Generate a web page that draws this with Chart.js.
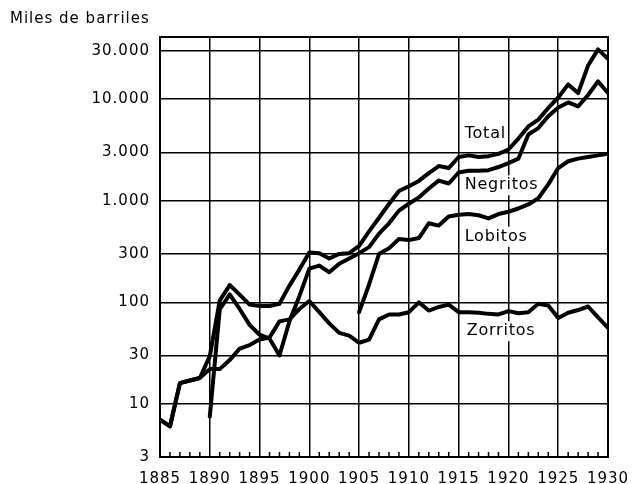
<!DOCTYPE html>
<html>
<head>
<meta charset="utf-8">
<script src="https://cdn.jsdelivr.net/npm/chart.js@4/dist/chart.umd.min.js"></script>
<style>
  body { margin: 0; background: #fff; }
</style>
</head>
<body>
<canvas id="chart" width="632" height="484"></canvas>
<script>
// years on the x axis
let years = [1885, 1886, 1887, 1888, 1889, 1890, 1891, 1892, 1893, 1894,
             1895, 1896, 1897, 1898, 1899, 1900, 1901, 1902, 1903, 1904,
             1905, 1906, 1907, 1908, 1909, 1910, 1911, 1912, 1913, 1914,
             1915, 1916, 1917, 1918, 1919, 1920, 1921, 1922, 1923, 1924,
             1925, 1926, 1927, 1928, 1929, 1930];

// production, thousands of barrels
let total = [7, 6, 16, 17, 18, 29.5, 104, 148, 119, 95,
             92, 92, 97, 146, 210, 310, 305, 270, 300, 305,
             360, 500, 680, 930, 1250, 1390, 1570, 1870, 2200, 2100,
             2700, 2800, 2700, 2750, 2900, 3200, 4100, 5400, 6300, 8200,
             10400, 14000, 11500, 21500, 31000, 25000];

let negritos = [null, null, null, null, null, 7.5, 85, 120, 86, 60,
                48, 44, 30, 65, 115, 215, 230, 198, 240, 270,
                305, 350, 475, 600, 800, 935, 1080, 1320, 1580, 1480,
                1900, 1980, 1980, 2000, 2150, 2350, 2600, 4500, 5200, 6800,
                8300, 9300, 8500, 11000, 15000, 11500];

let lobitos = [null, null, null, null, null, null, null, null, null, null,
               null, null, null, null, null, null, null, null, null, null,
               80, 150, 300, 340, 420, 410, 430, 600, 570, 700,
               730, 740, 720, 670, 740, 780, 840, 920, 1060, 1450,
               2100, 2450, 2600, 2700, 2800, 2900];

let zorritos = [7, 6, 16, 17, 18, 22, 22, 27, 35, 38,
                43, 45, 65, 68, 86, 103, 80, 62, 50, 47,
                40, 43, 68, 76, 76, 80, 100, 83, 90, 95,
                80, 80, 79, 77, 76, 82, 78, 80, 97, 93,
                70, 79, 84, 91, 71, 56];

// y axis ticks and their printed labels
let yTicks = [3, 10, 30, 100, 300, 1000, 3000, 10000, 30000];
let yTickLabels = ['3', '10', '30', '100', '300', '1.000', '3.000', '10.000', '30.000'];

// names written next to the lines
let seriesNames = ['Total', 'Negritos', 'Lobitos', 'Zorritos'];

// where each name sits (year, value)
let namePlaces = [
    { year: 1915.6, value: 4530 },
    { year: 1915.6, value: 1420 },
    { year: 1915.6, value: 443 },
    { year: 1915.8, value: 52 }
];

Chart.defaults.font.family = '"DejaVu Sans", sans-serif';
Chart.defaults.color = '#000';

function toPoints(arr)
{
    return years.map((yr, i) => ({ x: yr, y: arr[i] }));
}

function lineSet(label, arr)
{
    return {
        label: label,
        data: toPoints(arr),
        borderColor: '#000',
        borderWidth: 4,
        pointRadius: 0,
        tension: 0,
        borderJoinStyle: 'round',
        borderCapStyle: 'round',
        spanGaps: false
    };
}

// frame, little year ticks, axis title and line names
let decor = {
    id: 'decor',
    beforeDraw(chart) {
        // the printed type is set a little wide
        chart.ctx.letterSpacing = '1px';
    },
    beforeDatasetsDraw(chart) {
        let ctx = chart.ctx;
        let xs = chart.scales.x, ys = chart.scales.y;
        ctx.save();
        ctx.font = '16px "DejaVu Sans"';
        ctx.letterSpacing = '0.8px';
        ctx.textBaseline = 'middle';
        ctx.textAlign = 'left';
        seriesNames.forEach((name, i) => {
            let px = xs.getPixelForValue(namePlaces[i].year);
            let py = ys.getPixelForValue(namePlaces[i].value);
            let w = ctx.measureText(name).width;
            ctx.fillStyle = '#fff';
            ctx.fillRect(px - 1, py - 10, w + 3, 20);
            ctx.fillStyle = '#000';
            ctx.fillText(name, px, py);
        });
        ctx.restore();
    },
    afterDraw(chart) {
        let ctx = chart.ctx;
        let a = chart.chartArea;
        let xs = chart.scales.x;
        ctx.save();
        ctx.strokeStyle = '#000';
        ctx.lineWidth = 2;
        ctx.strokeRect(a.left, a.top, a.right - a.left, a.bottom - a.top);

        ctx.lineWidth = 1.5;
        years.forEach(yr => {
            if (yr % 5 === 0) return;
            let x = xs.getPixelForValue(yr);
            ctx.beginPath();
            ctx.moveTo(x, a.bottom);
            ctx.lineTo(x, a.bottom - 5);
            ctx.stroke();
        });

        ctx.fillStyle = '#000';
        ctx.font = '15px "DejaVu Sans"';
        ctx.letterSpacing = '1px';
        ctx.textBaseline = 'middle';
        ctx.textAlign = 'left';
        ctx.fillText('Miles de barriles', 10, 19);
        ctx.restore();
    }
};

let canvas = document.getElementById('chart');
let chart = new Chart(canvas, {
    type: 'line',
    data: {
        datasets: [
            lineSet('Total', total),
            lineSet('Negritos', negritos),
            lineSet('Lobitos', lobitos),
            lineSet('Zorritos', zorritos)
        ]
    },
    options: {
        responsive: false,
        animation: false,
        layout: { padding: { left: 0, right: 24, top: 37, bottom: 0 } },
        plugins: {
            legend: { display: false },
            tooltip: { enabled: false }
        },
        scales: {
            x: {
                type: 'linear',
                min: 1885,
                max: 1930,
                ticks: {
                    stepSize: 5,
                    font: { size: 15 },
                    padding: 13,
                    maxRotation: 0,
                    callback: v => String(v)
                },
                grid: { color: '#000', lineWidth: 1.5, drawTicks: false },
                border: { color: '#000', width: 2 },
                afterFit: s => {
                    s.height = 27;
                    s.paddingLeft = 0;
                    s.paddingRight = 0;
                }
            },
            y: {
                type: 'logarithmic',
                min: 3,
                max: 41000,
                afterBuildTicks: s => { s.ticks = yTicks.map(v => ({ value: v })); },
                ticks: {
                    font: { size: 15 },
                    padding: 10,
                    callback: (v, i) => yTickLabels[i]
                },
                grid: { color: '#000', lineWidth: 1.5, drawTicks: false },
                border: { color: '#000', width: 2 },
                afterFit: s => {
                    s.width = 160;
                    s.paddingTop = 0;
                    s.paddingBottom = 0;
                }
            }
        }
    },
    plugins: [decor]
});
</script>
</body>
</html>
